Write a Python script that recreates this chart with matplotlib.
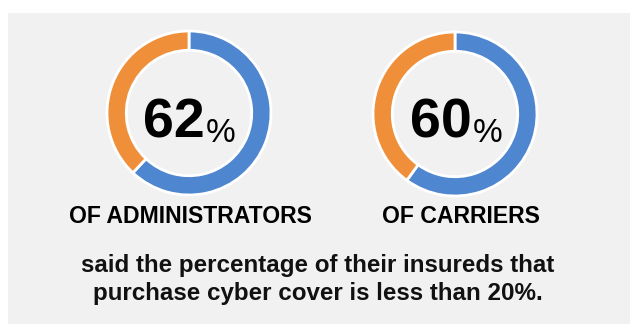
import matplotlib.pyplot as plt
from matplotlib.patches import Rectangle

# survey results
groups = ["OF ADMINISTRATORS", "OF CARRIERS"]
shares = [62, 60]
caption = ["said the percentage of their insureds that",
           "purchase cyber cover is less than 20%."]

BLUE = "#4f86d0"
ORANGE = "#ef8f3a"
PANEL = "#f1f1f1"
W, H = 632, 328

plt.rcParams["font.family"] = ["Liberation Sans", "DejaVu Sans"]

fig = plt.figure(figsize=(W / 100, H / 100), dpi=100)
fig.patch.set_facecolor("white")

# background axes in pixel coordinates (y downwards)
bg = fig.add_axes([0, 0, 1, 1])
bg.set_xlim(0, W)
bg.set_ylim(H, 0)
bg.axis("off")
bg.add_patch(Rectangle((8, 13), 622, 311, facecolor=PANEL, edgecolor="none"))

centers = [(189, 113), (455, 114)]
radius = 82
num_shift = [15, 14]
label_x = [190, 461]

for (cx, cy), share, label, dx, lx in zip(centers, shares, groups, num_shift, label_x):
    size = 2 * 1.25 * radius
    dax = fig.add_axes([(cx - size / 2) / W, (H - cy - size / 2) / H, size / W, size / H])
    dax.pie([share, 100 - share], colors=[BLUE, ORANGE], startangle=90,
            counterclock=False, radius=1.0,
            wedgeprops=dict(width=0.235, edgecolor="white", linewidth=2))

    num = bg.text(cx - dx, 137, f"{share}", ha="center", va="baseline",
                  fontsize=40, fontweight="bold", color="black")
    bg.annotate("%", xy=(1, 0), xycoords=num, xytext=(0.5, 0),
                textcoords="offset points", ha="left", va="bottom",
                fontsize=24, fontweight="medium", color="black")
    bg.text(lx, 223, label, ha="center", va="baseline",
            fontsize=16.6, fontweight="bold", color="black")

bg.text(318, 272, caption[0], ha="center", va="baseline",
        fontsize=17.4, fontweight="bold", color="#111111")
bg.text(318, 300, caption[1], ha="center", va="baseline",
        fontsize=17.4, fontweight="bold", color="#111111")

fig.savefig("out.png", dpi=100, facecolor="white")
